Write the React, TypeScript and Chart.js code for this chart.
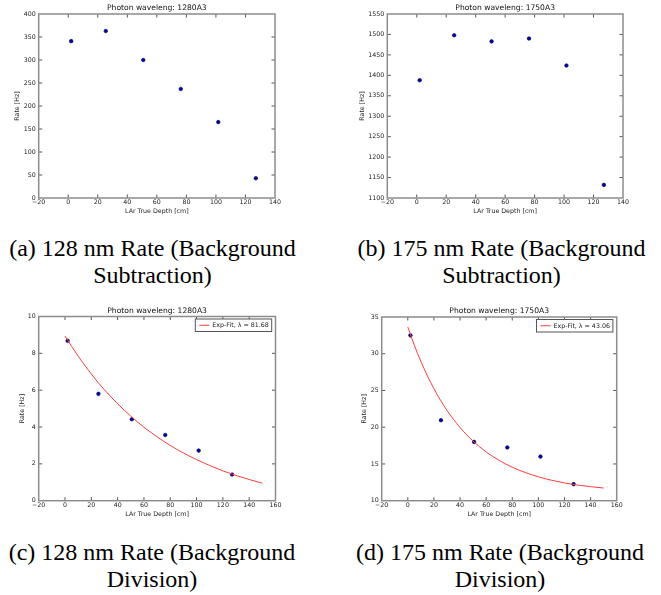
import React, { useEffect, useRef } from 'react';
import { Chart, registerables } from 'chart.js';

Chart.register(...registerables);

// ---------------- data ----------------
const depthCm = [2, 25.4, 50.8, 76.2, 101.6, 127];
const rate128Sub = [341, 363, 300, 237, 165, 43];
const rate175Sub = [1388, 1498, 1483, 1490, 1424, 1132];
const rate128Div = [8.68, 5.8, 4.42, 3.57, 2.72, 1.42];
const rate175Div = [32.5, 20.95, 18.0, 17.25, 16.0, 12.25];

const fitDepth = [0, 5, 10, 15, 20, 25, 30, 40, 50, 60, 70, 80, 90, 100, 110, 120, 130, 140, 150];
const fit128 = [8.94, 8.38, 7.85, 7.35, 6.88, 6.43, 6.02, 5.26, 4.59, 3.99, 3.47, 3.0, 2.59, 2.23, 1.91, 1.62, 1.37, 1.15, 0.95];
const fit175 = [33.64, 31.16, 28.96, 26.99, 25.24, 23.68, 22.29, 19.96, 18.11, 16.64, 15.48, 14.56, 13.83, 13.25, 12.79, 12.42, 12.13, 11.91, 11.72];

const plotTitles = ['Photon waveleng: 1280A3', 'Photon waveleng: 1750A3'];
const fitLabels = ['Exp-Fit, \u03bb = 81.68', 'Exp-Fit, \u03bb = 43.06'];
const xAxisTitle = 'LAr True Depth [cm]';
const yAxisTitle = 'Rate [Hz]';
const captionLines = [
  ['(a) 128 nm Rate (Background', 'Subtraction)'],
  ['(b) 175 nm Rate (Background', 'Subtraction)'],
  ['(c) 128 nm Rate (Background', 'Division)'],
  ['(d) 175 nm Rate (Background', 'Division)'],
];

const FONT = "'DejaVu Sans', sans-serif";
const SERIF = "'Liberation Serif', 'Times New Roman', serif";

// ---------------- plugins ----------------
const frameTicks = {
  id: 'frameTicks',
  afterDatasetsDraw(chart: any) {
    const { ctx, chartArea, scales } = chart;
    const { left, right, top, bottom } = chartArea;
    const len = 3.5;
    ctx.save();
    ctx.strokeStyle = '#555';
    ctx.lineWidth = 1;
    ctx.beginPath();
    scales.x.ticks.forEach((t: any) => {
      const px = scales.x.getPixelForValue(t.value);
      if (px < left + 0.5 || px > right - 0.5) return;
      ctx.moveTo(px, bottom);
      ctx.lineTo(px, bottom - len);
      ctx.moveTo(px, top);
      ctx.lineTo(px, top + len);
    });
    scales.y.ticks.forEach((t: any) => {
      const py = scales.y.getPixelForValue(t.value);
      if (py < top + 0.5 || py > bottom - 0.5) return;
      ctx.moveTo(left, py);
      ctx.lineTo(left + len, py);
      ctx.moveTo(right, py);
      ctx.lineTo(right - len, py);
    });
    ctx.stroke();
    ctx.strokeStyle = '#8c8c8c';
    ctx.lineWidth = 1.5;
    ctx.strokeRect(left, top, right - left, bottom - top);
    ctx.restore();
  },
};

const fitLegend = {
  id: 'fitLegend',
  afterDraw(chart: any, _args: any, opts: any) {
    if (!opts || !opts.show) return;
    const ds = chart.data.datasets.find((d: any) => d.showLine);
    if (!ds) return;
    const { ctx, chartArea } = chart;
    ctx.save();
    ctx.font = `6.3px ${FONT}`;
    const tw = ctx.measureText(ds.label).width;
    const w = 4 + 10 + 3 + tw + 3;
    const h = 12.5;
    const x = chartArea.right - 3.8 - w;
    const y = chartArea.top + 2.5;
    ctx.fillStyle = '#fff';
    ctx.fillRect(x, y, w, h);
    ctx.strokeStyle = '#555';
    ctx.lineWidth = 1;
    ctx.strokeRect(x, y, w, h);
    ctx.strokeStyle = ds.borderColor;
    ctx.beginPath();
    ctx.moveTo(x + 4, y + h / 2);
    ctx.lineTo(x + 14, y + h / 2);
    ctx.stroke();
    ctx.fillStyle = '#222';
    ctx.textBaseline = 'middle';
    ctx.fillText(ds.label, x + 17, y + h / 2 + 0.3);
    ctx.restore();
  },
};

const minusFmt = (v: any) => (Number(v) < 0 ? '\u2212' + Math.abs(Number(v)) : String(v));

interface PanelCfg {
  left: number; top: number; width: number; height: number;
  yWidth: number; xHeight: number; padRight: number;
  titlePadTop: number; titlePadBottom: number;
  yTitlePad: number; xTitlePad: number;
  xMax: number; yMin: number; yMax: number; yStep: number;
  title: string; values: number[]; fit?: number[]; fitLabel?: string;
}

function Panel({ cfg }: { cfg: PanelCfg }) {
  const ref = useRef<HTMLCanvasElement | null>(null);
  useEffect(() => {
    if (!ref.current) return;
    const datasets: any[] = [];
    if (cfg.fit) {
      datasets.push({
        label: cfg.fitLabel,
        data: fitDepth.map((x, i) => ({ x, y: cfg.fit![i] })),
        showLine: true,
        borderColor: '#ff3c3c',
        backgroundColor: '#ff3c3c',
        borderWidth: 1,
        pointRadius: 0,
        cubicInterpolationMode: 'monotone',
        order: 0,
      });
    }
    datasets.push({
      label: 'data',
      data: depthCm.map((x, i) => ({ x, y: cfg.values[i] })),
      showLine: false,
      pointRadius: 1.8,
      pointBackgroundColor: '#0000b4',
      pointBorderColor: '#000030',
      pointBorderWidth: 0.6,
      order: 1,
    });
    const tickFont = { family: FONT, size: 6.3 };
    const chart = new Chart(ref.current, {
      type: 'scatter',
      data: { datasets },
      plugins: [frameTicks, fitLegend],
      options: {
        responsive: false,
        animation: false,
        events: [],
        layout: { padding: { left: 0, top: 0, bottom: 0, right: cfg.padRight } },
        plugins: {
          legend: { display: false },
          tooltip: { enabled: false },
          title: {
            display: true,
            text: cfg.title,
            fullSize: false,
            color: '#111',
            font: { family: FONT, size: 7.6, weight: 'normal' },
            padding: { top: cfg.titlePadTop, bottom: cfg.titlePadBottom },
          },
          fitLegend: { show: !!cfg.fit },
        } as any,
        scales: {
          x: {
            type: 'linear',
            min: -20,
            max: cfg.xMax,
            grid: { display: false, drawTicks: false },
            border: { display: false },
            ticks: { stepSize: 20, font: tickFont, color: '#222', padding: 0.5, maxRotation: 0, callback: minusFmt },
            title: { display: true, text: xAxisTitle, font: tickFont, color: '#222', padding: { top: 0, bottom: cfg.xTitlePad } },
            afterFit: (s: any) => { s.height = cfg.xHeight; },
          },
          y: {
            type: 'linear',
            min: cfg.yMin,
            max: cfg.yMax,
            grid: { display: false, drawTicks: false },
            border: { display: false },
            ticks: { stepSize: cfg.yStep, font: tickFont, color: '#222', padding: 3, callback: minusFmt },
            title: { display: true, text: yAxisTitle, font: tickFont, color: '#222', padding: { top: cfg.yTitlePad, bottom: 0 } },
            afterFit: (s: any) => { s.width = cfg.yWidth; },
          },
        } as any,
      } as any,
    });
    return () => chart.destroy();
  }, []);
  return (
    <canvas
      ref={ref}
      width={cfg.width}
      height={cfg.height}
      style={{ position: 'absolute', left: cfg.left, top: cfg.top, width: cfg.width, height: cfg.height }}
    />
  );
}

const panels: PanelCfg[] = [
  { left: 0, top: 0, width: 330, height: 215, yWidth: 38.7, xHeight: 17, padRight: 55,
    titlePadTop: 3.74, titlePadBottom: 1.14, yTitlePad: 13.7, xTitlePad: 0,
    xMax: 140, yMin: 0, yMax: 400, yStep: 50, title: plotTitles[0], values: rate128Sub },
  { left: 330, top: 0, width: 331, height: 215, yWidth: 57.3, xHeight: 17, padRight: 38,
    titlePadTop: 3.74, titlePadBottom: 1.14, yTitlePad: 28.9, xTitlePad: 0,
    xMax: 140, yMin: 1100, yMax: 1550, yStep: 50, title: plotTitles[1], values: rate175Sub },
  { left: 0, top: 300, width: 330, height: 220, yWidth: 38.7, xHeight: 19.3, padRight: 54.5,
    titlePadTop: 6.44, titlePadBottom: 0.94, yTitlePad: 18.2, xTitlePad: 1.9,
    xMax: 160, yMin: 0, yMax: 10, yStep: 2, title: plotTitles[0], values: rate128Div, fit: fit128, fitLabel: fitLabels[0] },
  { left: 330, top: 300, width: 331, height: 220, yWidth: 51.7, xHeight: 19.3, padRight: 44.3,
    titlePadTop: 6.44, titlePadBottom: 1.44, yTitlePad: 30.9, xTitlePad: 1.9,
    xMax: 160, yMin: 10, yMax: 35, yStep: 5, title: plotTitles[1], values: rate175Div, fit: fit175, fitLabel: fitLabels[1] },
];

const captionPos = [
  { cx: 152.5, top: 234.5 },
  { cx: 501.5, top: 234.5 },
  { cx: 152, top: 538.5 },
  { cx: 500, top: 538.5 },
];

export default function App() {
  return (
    <div style={{ position: 'absolute', left: 0, top: 0, width: 661, height: 595, overflow: 'hidden', background: '#fff' }}>
      {panels.map((p, i) => (
        <Panel key={i} cfg={p} />
      ))}
      {captionLines.map((lines, i) => (
        <div
          key={'c' + i}
          style={{
            position: 'absolute',
            left: captionPos[i].cx - 170,
            top: captionPos[i].top,
            width: 340,
            textAlign: 'center',
            fontFamily: SERIF,
            fontSize: 24,
            lineHeight: '27px',
            color: '#000',
            whiteSpace: 'nowrap',
          }}
        >
          {lines[0]}
          <br />
          {lines[1]}
        </div>
      ))}
    </div>
  );
}
